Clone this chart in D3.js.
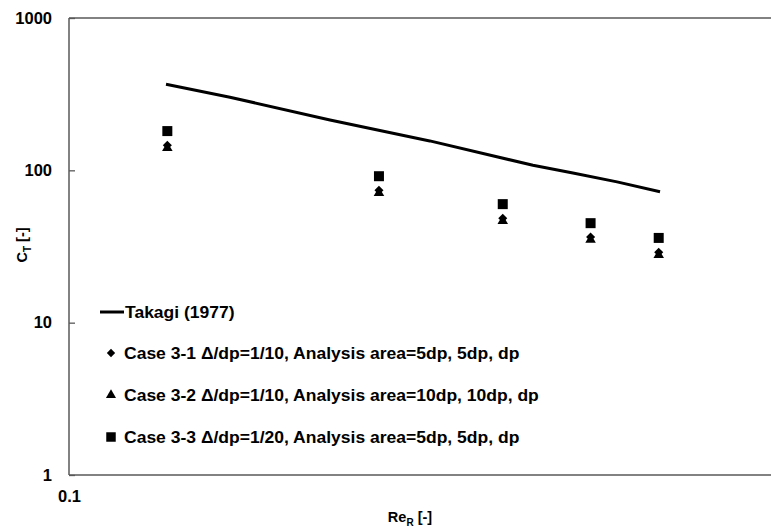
<!DOCTYPE html>
<html>
<head>
<meta charset="utf-8">
<script src="https://cdn.jsdelivr.net/npm/d3@7"></script>
<style>
  html, body { margin: 0; padding: 0; background: #fff; }
  svg { display: block; }
  text { font-family: "Liberation Sans", Arial, sans-serif; font-weight: bold; fill: #000; }
</style>
</head>
<body>
<svg id="chart" width="771" height="528"></svg>
<script>
// Reynolds numbers of the simulated cases
const reCases = [0.138, 0.276, 0.414, 0.552, 0.69];
// Torque coefficients of each case
const case31 = [146, 74, 48.5, 36.5, 29];
const case32 = [140, 71, 46.5, 35, 27.8];
const case33 = [181, 91.5, 60, 45, 36];
// Takagi (1977) correlation curve
const takagiRe = [0.1374, 0.1694, 0.2351, 0.326, 0.457, 0.521, 0.602, 0.693];
const takagiCT = [367, 302, 214, 156, 108, 96, 84, 72.4];
// Axis ticks
const yTicks = [1, 10, 100, 1000];
const xTicks = [0.1];
const legendLabels = [
  "Takagi (1977)",
  "Case 3-1 \u0394/dp=1/10, Analysis area=5dp, 5dp, dp",
  "Case 3-2 \u0394/dp=1/10, Analysis area=10dp, 10dp, dp",
  "Case 3-3 \u0394/dp=1/20, Analysis area=5dp, 5dp, dp"
];

const svg = d3.select("#chart");
const plotLeft = 69, plotRight = 772, plotTop = 18, plotBottom = 475;

const x = d3.scaleLog().domain([0.1, 1]).range([plotLeft, plotRight]);
const y = d3.scaleLog().domain([1, 1000]).range([plotBottom, plotTop]);

// Plot frame
const frame = svg.append("g").attr("stroke", "#595959").attr("stroke-width", 1.5).attr("fill", "none");
frame.append("line").attr("x1", plotLeft).attr("x2", plotRight).attr("y1", plotTop).attr("y2", plotTop);
frame.append("line").attr("x1", plotLeft).attr("x2", plotRight).attr("y1", plotBottom).attr("y2", plotBottom);
frame.append("line").attr("x1", plotLeft).attr("x2", plotLeft).attr("y1", plotTop).attr("y2", plotBottom);

// Y axis (ticks point inward)
const yAxis = svg.append("g")
  .attr("transform", `translate(${plotLeft},0)`)
  .call(d3.axisLeft(y).tickValues(yTicks).tickFormat(d3.format("d")).tickSizeInner(-6).tickSizeOuter(0).tickPadding(17));
yAxis.select(".domain").remove();
yAxis.selectAll(".tick line").attr("stroke", "#595959").attr("stroke-width", 1.3);
yAxis.selectAll(".tick text").attr("font-size", 16.5).attr("font-family", null);

// X axis
const xAxis = svg.append("g")
  .attr("transform", `translate(0,${plotBottom})`)
  .call(d3.axisBottom(x).tickValues(xTicks).tickFormat(d3.format(".1f")).tickSize(0).tickPadding(15));
xAxis.select(".domain").remove();
xAxis.selectAll(".tick text").attr("font-size", 16.5).attr("font-family", null);

// Axis titles
const xt = svg.append("text").attr("x", 410).attr("y", 522).attr("text-anchor", "middle").attr("font-size", 14.5);
xt.append("tspan").text("Re");
xt.append("tspan").attr("font-size", 10).attr("dy", 4).text("R");
xt.append("tspan").attr("dy", -4).text(" [-]");

const yt = svg.append("text").attr("transform", "translate(27,245) rotate(-90)").attr("text-anchor", "middle").attr("font-size", 14.5);
yt.append("tspan").text("C");
yt.append("tspan").attr("font-size", 10).attr("dy", 4).text("T");
yt.append("tspan").attr("dy", -4).text(" [-]");

// Takagi curve
const line = d3.line().x((d, i) => x(takagiRe[i])).y(d => y(d));
svg.append("path").datum(takagiCT).attr("d", line)
  .attr("fill", "none").attr("stroke", "#000").attr("stroke-width", 3).attr("stroke-linejoin", "round");

// Marker symbols
const diamond = d3.symbol().type(d3.symbolDiamond2).size(52);
const triangle = d3.symbol().type(d3.symbolTriangle).size(48);
const square = d3.symbol().type(d3.symbolSquare).size(100);

function drawSeries(vals, sym) {
  svg.append("g").selectAll("path").data(vals).join("path")
    .attr("transform", (d, i) => `translate(${x(reCases[i])},${y(d)})`)
    .attr("d", sym).attr("fill", "#000");
}
drawSeries(case32, triangle);
drawSeries(case31, diamond);
drawSeries(case33, square);

// Legend
const lg = svg.append("g");
const rowsY = [312, 353, 395, 437];
lg.append("line").attr("x1", 100).attr("x2", 124).attr("y1", rowsY[0]).attr("y2", rowsY[0])
  .attr("stroke", "#000").attr("stroke-width", 3);
const legendSyms = [null,
  d3.symbol().type(d3.symbolDiamond2).size(44),
  d3.symbol().type(d3.symbolTriangle).size(44),
  d3.symbol().type(d3.symbolSquare).size(90)];
legendSyms.forEach((s, i) => {
  if (s) lg.append("path").attr("transform", `translate(111,${rowsY[i]})`).attr("d", s).attr("fill", "#000");
});
legendLabels.forEach((t, i) => {
  const x0 = i === 0 ? 125 : 124;
  lg.append("text")
    .attr("transform", `translate(${x0},${rowsY[i]}) scale(1.095,1)`)
    .attr("dy", "0.36em")
    .attr("font-size", 16).text(t);
});
</script>
</body>
</html>
